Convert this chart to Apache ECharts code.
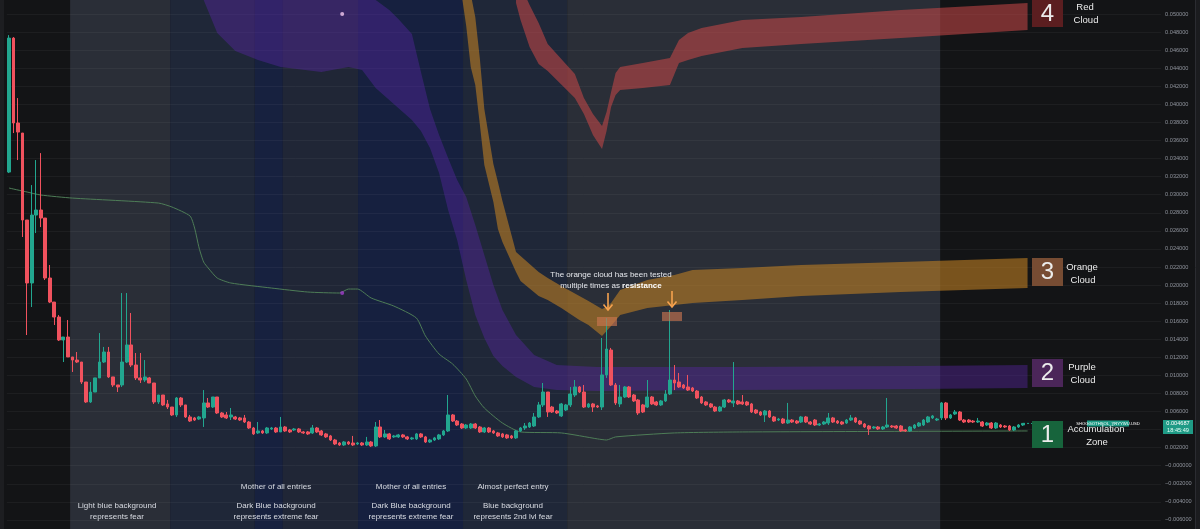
<!DOCTYPE html>
<html><head><meta charset="utf-8">
<script src="https://cdn.jsdelivr.net/npm/echarts@6/dist/echarts.min.js"></script>
<style>html,body{margin:0;padding:0;background:#131416;overflow:hidden;width:1200px;height:529px;}#c{position:absolute;left:0;top:-4px;width:1200px;height:542px;}</style>
</head><body><div id="c"></div><script>
// ---------- DATA ----------
const opens = [
0.03251,0.04734,0.03794,0.03683,0.02720,0.02023,0.02775,0.02831,0.02742,0.02078,
0.01812,0.01646,0.01392,0.01425,0.01204,0.01170,0.01148,0.00927,0.00706,0.00816,
0.00972,0.01148,0.01259,0.00983,0.00894,0.00894,0.01148,0.01337,0.01115,0.00972,
0.00949,0.00972,0.00916,0.00706,0.00783,0.00684,0.00650,0.00562,0.00750,0.00673,
0.00540,0.00529,0.00517,0.00529,0.00695,0.00650,0.00761,0.00584,0.00562,0.00540,
0.00540,0.00529,0.00529,0.00484,0.00418,0.00363,0.00385,0.00363,0.00407,0.00418,
0.00374,0.00429,0.00396,0.00396,0.00407,0.00374,0.00374,0.00363,0.00418,0.00385,
0.00352,0.00330,0.00285,0.00252,0.00230,0.00263,0.00252,0.00241,0.00252,0.00230,
0.00263,0.00219,0.00429,0.00319,0.00352,0.00319,0.00319,0.00341,0.00319,0.00297,
0.00297,0.00352,0.00319,0.00263,0.00285,0.00297,0.00341,0.00385,0.00562,0.00495,
0.00462,0.00418,0.00418,0.00462,0.00429,0.00374,0.00418,0.00385,0.00363,0.00352,
0.00341,0.00330,0.00308,0.00385,0.00418,0.00429,0.00440,0.00540,0.00673,0.00816,
0.00650,0.00606,0.00551,0.00617,0.00673,0.00783,0.00872,0.00816,0.00650,0.00684,
0.00662,0.00650,0.01005,0.01281,0.00894,0.00684,0.00761,0.00872,0.00783,0.00728,
0.00673,0.00650,0.00761,0.00706,0.00673,0.00717,0.00794,0.00949,0.00927,0.00894,
0.00872,0.00861,0.00827,0.00761,0.00706,0.00684,0.00650,0.00606,0.00650,0.00728,
0.00695,0.00717,0.00706,0.00706,0.00684,0.00617,0.00595,0.00562,0.00606,0.00540,
0.00506,0.00517,0.00473,0.00506,0.00495,0.00484,0.00540,0.00484,0.00506,0.00451,
0.00462,0.00473,0.00529,0.00495,0.00484,0.00473,0.00506,0.00529,0.00495,0.00462,
0.00440,0.00418,0.00429,0.00407,0.00429,0.00440,0.00440,0.00440,0.00396,0.00385,
0.00418,0.00440,0.00451,0.00484,0.00529,0.00506,0.00529,0.00695,0.00529,0.00573,
0.00595,0.00506,0.00506,0.00495,0.00484,0.00484,0.00451,0.00473,0.00418,0.00451,
0.00440,0.00440,0.00396,0.00429,0.00451];
const closes = [
0.04734,0.03794,0.03694,0.02720,0.02023,0.02775,0.02831,0.02742,0.02078,0.01812,
0.01646,0.01392,0.01425,0.01204,0.01170,0.01148,0.00927,0.00706,0.00816,0.00972,
0.01148,0.01259,0.00983,0.00894,0.00872,0.01148,0.01337,0.01115,0.00972,0.00949,
0.00983,0.00916,0.00706,0.00783,0.00673,0.00650,0.00562,0.00750,0.00673,0.00540,
0.00495,0.00506,0.00540,0.00695,0.00650,0.00761,0.00584,0.00540,0.00529,0.00562,
0.00517,0.00506,0.00484,0.00418,0.00352,0.00385,0.00363,0.00418,0.00418,0.00374,
0.00429,0.00385,0.00374,0.00407,0.00374,0.00363,0.00352,0.00418,0.00374,0.00341,
0.00319,0.00285,0.00241,0.00230,0.00263,0.00241,0.00230,0.00252,0.00230,0.00263,
0.00219,0.00429,0.00319,0.00352,0.00297,0.00330,0.00341,0.00319,0.00297,0.00308,
0.00352,0.00319,0.00263,0.00285,0.00308,0.00341,0.00385,0.00562,0.00495,0.00451,
0.00418,0.00451,0.00462,0.00418,0.00374,0.00418,0.00374,0.00363,0.00330,0.00319,
0.00308,0.00308,0.00385,0.00418,0.00440,0.00473,0.00540,0.00673,0.00816,0.00595,
0.00595,0.00584,0.00684,0.00673,0.00794,0.00872,0.00816,0.00650,0.00684,0.00650,
0.00650,0.01005,0.01292,0.00894,0.00695,0.00761,0.00872,0.00761,0.00717,0.00584,
0.00595,0.00761,0.00684,0.00673,0.00717,0.00794,0.00949,0.00916,0.00872,0.00861,
0.00838,0.00827,0.00750,0.00695,0.00673,0.00650,0.00606,0.00650,0.00728,0.00706,
0.00717,0.00684,0.00684,0.00673,0.00595,0.00584,0.00562,0.00606,0.00540,0.00495,
0.00517,0.00473,0.00506,0.00484,0.00473,0.00540,0.00484,0.00462,0.00451,0.00462,
0.00484,0.00529,0.00484,0.00473,0.00462,0.00506,0.00529,0.00484,0.00462,0.00429,
0.00407,0.00429,0.00407,0.00429,0.00451,0.00429,0.00418,0.00385,0.00385,0.00429,
0.00451,0.00473,0.00506,0.00540,0.00551,0.00517,0.00695,0.00529,0.00562,0.00595,
0.00506,0.00484,0.00484,0.00484,0.00495,0.00440,0.00473,0.00418,0.00473,0.00429,
0.00429,0.00396,0.00429,0.00451,0.004687];
const highs = [
0.04767,0.04745,0.04070,0.03683,0.02720,0.03107,0.03384,0.03461,0.02742,0.02222,
0.01812,0.01668,0.01425,0.01613,0.01204,0.01259,0.01148,0.00927,0.00927,0.00972,
0.01469,0.01315,0.01315,0.00983,0.00894,0.01912,0.01912,0.01691,0.01248,0.01248,
0.01170,0.00983,0.00916,0.00783,0.00783,0.00728,0.00650,0.00761,0.00761,0.00673,
0.00562,0.00540,0.00551,0.00838,0.00750,0.00761,0.00761,0.00595,0.00595,0.00639,
0.00551,0.00540,0.00562,0.00495,0.00429,0.00484,0.00396,0.00429,0.00429,0.00429,
0.00540,0.00440,0.00407,0.00418,0.00418,0.00385,0.00385,0.00451,0.00429,0.00396,
0.00363,0.00341,0.00297,0.00263,0.00274,0.00274,0.00330,0.00263,0.00263,0.00319,
0.00274,0.00484,0.00506,0.00396,0.00363,0.00341,0.00352,0.00352,0.00330,0.00319,
0.00363,0.00363,0.00330,0.00297,0.00319,0.00352,0.00396,0.00783,0.00573,0.00506,
0.00473,0.00462,0.00473,0.00473,0.00440,0.00429,0.00429,0.00396,0.00374,0.00363,
0.00352,0.00341,0.00396,0.00429,0.00473,0.00484,0.00584,0.00706,0.00916,0.00816,
0.00662,0.00617,0.00695,0.00684,0.00872,0.00949,0.00883,0.00894,0.00695,0.00695,
0.00673,0.01414,0.01635,0.01304,0.00916,0.00894,0.00883,0.00883,0.00794,0.00739,
0.00684,0.00949,0.00772,0.00717,0.00728,0.00838,0.01724,0.01115,0.01027,0.00905,
0.01005,0.00872,0.00838,0.00772,0.00717,0.00695,0.00662,0.00662,0.00739,0.00739,
0.01148,0.00728,0.00783,0.00717,0.00695,0.00628,0.00606,0.00617,0.00617,0.00551,
0.00529,0.00529,0.00695,0.00517,0.00506,0.00551,0.00551,0.00495,0.00517,0.00473,
0.00495,0.00584,0.00540,0.00506,0.00495,0.00517,0.00562,0.00540,0.00506,0.00473,
0.00451,0.00440,0.00440,0.00440,0.00750,0.00451,0.00451,0.00451,0.00407,0.00440,
0.00462,0.00484,0.00517,0.00551,0.00562,0.00529,0.00706,0.00706,0.00573,0.00617,
0.00606,0.00517,0.00517,0.00506,0.00529,0.00495,0.00484,0.00484,0.00484,0.00462,
0.00451,0.00451,0.00440,0.00462,0.00473];
const lows = [
0.03240,0.03683,0.03384,0.02532,0.01447,0.01757,0.02576,0.02642,0.02056,0.01801,
0.01558,0.01381,0.01148,0.01204,0.01038,0.01137,0.00905,0.00695,0.00695,0.00816,
0.00972,0.01137,0.00972,0.00872,0.00816,0.00872,0.01137,0.01093,0.00949,0.00916,
0.00927,0.00916,0.00684,0.00684,0.00662,0.00628,0.00551,0.00540,0.00650,0.00529,
0.00484,0.00495,0.00506,0.00429,0.00639,0.00639,0.00573,0.00529,0.00517,0.00506,
0.00506,0.00495,0.00473,0.00407,0.00341,0.00352,0.00352,0.00352,0.00396,0.00363,
0.00374,0.00374,0.00363,0.00385,0.00363,0.00352,0.00341,0.00352,0.00363,0.00330,
0.00308,0.00274,0.00230,0.00219,0.00219,0.00230,0.00219,0.00230,0.00219,0.00219,
0.00208,0.00208,0.00308,0.00308,0.00285,0.00308,0.00308,0.00308,0.00285,0.00285,
0.00285,0.00308,0.00252,0.00252,0.00274,0.00285,0.00330,0.00374,0.00484,0.00440,
0.00407,0.00407,0.00407,0.00407,0.00363,0.00363,0.00363,0.00352,0.00319,0.00308,
0.00297,0.00297,0.00297,0.00374,0.00396,0.00418,0.00429,0.00529,0.00650,0.00540,
0.00584,0.00573,0.00540,0.00606,0.00650,0.00761,0.00805,0.00639,0.00639,0.00595,
0.00639,0.00617,0.00972,0.00883,0.00673,0.00650,0.00750,0.00750,0.00706,0.00562,
0.00584,0.00639,0.00673,0.00662,0.00662,0.00706,0.00783,0.00838,0.00861,0.00850,
0.00827,0.00816,0.00739,0.00684,0.00662,0.00639,0.00595,0.00595,0.00639,0.00695,
0.00650,0.00673,0.00673,0.00662,0.00584,0.00573,0.00551,0.00484,0.00529,0.00484,
0.00495,0.00462,0.00462,0.00473,0.00462,0.00473,0.00473,0.00451,0.00440,0.00440,
0.00451,0.00451,0.00473,0.00462,0.00451,0.00462,0.00495,0.00473,0.00451,0.00418,
0.00341,0.00407,0.00396,0.00396,0.00418,0.00418,0.00407,0.00374,0.00374,0.00374,
0.00407,0.00429,0.00440,0.00473,0.00517,0.00495,0.00506,0.00506,0.00517,0.00562,
0.00495,0.00473,0.00473,0.00473,0.00473,0.00429,0.00440,0.00407,0.00407,0.00418,
0.00418,0.00385,0.00385,0.00418,0.00440];

const purpleIdx = [43,46,50,55,60,69,75,78,81,84,86,89,91,93,95,97,99,101,103,105,107,109,112,116,121,130,160,200,225];
const purpleTop = [0.05598,0.05598,0.05598,0.05598,0.05598,0.05598,0.05598,0.05598,0.05155,0.05044,0.04945,0.04779,0.04358,0.03949,0.03661,0.03406,0.03163,0.02975,0.02665,0.02333,0.02001,0.01724,0.01447,0.01226,0.01115,0.01093,0.01093,0.01104,0.01115];
const purpleBottom = [0.05155,0.04790,0.04590,0.04491,0.04413,0.04358,0.04413,0.04380,0.04181,0.04048,0.03960,0.03827,0.03705,0.03517,0.03240,0.02831,0.02499,0.02056,0.01668,0.01414,0.01215,0.01104,0.00983,0.00872,0.00838,0.00827,0.00838,0.00850,0.00861];

const orangeIdx = [100,101,102,103,104,105,107,108,109,111,112,113,117,119,122,126,128,131,132,133,135,141,147,151,162,175,197,225];
const orangeTop = [0.05819,0.05598,0.05221,0.04967,0.04513,0.03949,0.03340,0.03141,0.02930,0.02554,0.02366,0.02322,0.02144,0.02078,0.01990,0.01879,0.01823,0.01735,0.01757,0.01801,0.01945,0.02056,0.02111,0.02167,0.02189,0.02222,0.02255,0.02300];
const orangeBottom = [0.05210,0.04867,0.04413,0.04214,0.03783,0.03329,0.02919,0.02620,0.02476,0.02255,0.02144,0.02045,0.01879,0.01834,0.01746,0.01613,0.01558,0.01436,0.01491,0.01547,0.01668,0.01746,0.01779,0.01801,0.01834,0.01879,0.01923,0.01967];

const redIdx = [112,113,115,117,119,121,123,125,127,129,131,132,133,134,135,140,146,148,150,153,162,175,197,225];
const redTop = [0.05487,0.05321,0.05100,0.04900,0.04668,0.04557,0.04447,0.04336,0.04070,0.03893,0.03760,0.03915,0.04137,0.04347,0.04413,0.04458,0.04513,0.04712,0.04790,0.04845,0.04934,0.04967,0.05044,0.05122];
const redBottom = [0.05122,0.04934,0.04635,0.04447,0.04369,0.04270,0.04170,0.04070,0.03893,0.03661,0.03506,0.03705,0.03971,0.04103,0.04159,0.04181,0.04214,0.04458,0.04491,0.04535,0.04624,0.04668,0.04734,0.04823];

const greenIdx = [0,4,7,14,33,36,40,41,42,43,44,46,49,58,66,73,75,77,80,85,90,92,95,98,101,103,105,109,113,122,130,132,134,147,162,225];
const greenVal = [0.03074,0.03030,0.02997,0.02963,0.02908,0.02864,0.02764,0.02631,0.02410,0.02255,0.02189,0.02078,0.02023,0.01967,0.01923,0.01912,0.01956,0.01956,0.01857,0.01768,0.01635,0.01436,0.01237,0.01126,0.00960,0.00772,0.00639,0.00473,0.00374,0.00363,0.00297,0.00285,0.00319,0.00363,0.00374,0.00385];

const bandStart = [13.5, 35.6, 54.3, 60.5, 77.1, 100.3, 123.3];
const bandEnd   = [35.6, 54.3, 60.5, 77.1, 100.3, 123.3, 205.7];

const lastPrice = 0.004687;
const lastTime = '18:45:49';
const symbolName = 'SHOGGOTHSOL_YRYYWU.USD';
const priceLineEnd = 226;
const markerIdx = 73.6;
const markerVals = [0.01912, 0.05000];

const yMin = -0.008, yMax = 0.052, yStep = 0.002;
const slotCount = 255;
const categories = Array.from({length: slotCount}, (_, i) => String(i));

// ---------- STYLE ----------
const bandFill = ['#2a2e37','#1f2738','#17213f','#202636','#16203f','#1f2738','#2a2e37'];
const UP = '#22a68f', DOWN = '#f0525e';
const FONT = 'Liberation Sans, Arial, sans-serif';
const OFFSET_Y = 4; // the chart canvas starts 4px above the window

const chart = echarts.init(document.getElementById('c'), null, {renderer: 'canvas'});

function cloud(idx, top, bottom, fill) {
  return {
    type: 'custom', xAxisIndex: 1, yAxisIndex: 0, z: 2, silent: true,
    data: idx.map((x, i) => [x, top[i], bottom[i]]),
    renderItem: function (params, api) {
      if (params.dataIndex !== 0) return null;
      const pts = [];
      for (let i = 0; i < idx.length; i++) pts.push(api.coord([idx[i], top[i]]));
      for (let i = idx.length - 1; i >= 0; i--) pts.push(api.coord([idx[i], bottom[i]]));
      return { type: 'polygon', shape: { points: pts }, style: { fill: fill } };
    }
  };
}

function txt(x, y, text, size, color) {
  return { type: 'text', x: x, y: y, z: 100,
    style: { text: text, fill: color || '#d9dce3', fontSize: size, fontFamily: FONT, align: 'center', verticalAlign: 'middle' } };
}
function box(x, y, w, h, fill) {
  return { type: 'rect', z: 99, shape: { x: x, y: y, width: w, height: h }, style: { fill: fill } };
}

const overlay = [
  box(0, -4, 4, 545, '#1d1e21'),
  box(1196, -4, 4, 545, '#1b1c1f'),
  { type: 'line', z: 99, shape: { x1: 1195.5, y1: -4, x2: 1195.5, y2: 540 }, style: { stroke: '#2b2c31', lineWidth: 1 } },
  // annotation in the middle
  txt(611, 275, 'The orange cloud has been tested', 8, '#e4e6eb'),
  { type: 'text', x: 611, y: 286, z: 100, style: { text: '{a|multiple times as }{b|resistance}', align: 'center', verticalAlign: 'middle',
    rich: { a: { fontSize: 8, fill: '#e4e6eb', fontFamily: FONT }, b: { fontSize: 8, fill: '#ffffff', fontWeight: 'bold', fontFamily: FONT } } } },
  { type: 'rect', z: 98, shape: { x: 597, y: 317, width: 20, height: 9 }, style: { fill: 'rgba(205,120,80,0.62)' } },
  { type: 'rect', z: 98, shape: { x: 662, y: 312, width: 20, height: 9 }, style: { fill: 'rgba(205,120,80,0.62)' } },
  { type: 'line', z: 100, shape: { x1: 608, y1: 293, x2: 608, y2: 310 }, style: { stroke: '#f6a24f', lineWidth: 1.6 } },
  { type: 'polyline', z: 100, shape: { points: [[603.5, 304.5], [608, 310], [612.5, 304.5]] }, style: { stroke: '#f6a24f', lineWidth: 1.6, fill: null } },
  { type: 'line', z: 100, shape: { x1: 672, y1: 291, x2: 672, y2: 307 }, style: { stroke: '#f6a24f', lineWidth: 1.6 } },
  { type: 'polyline', z: 100, shape: { points: [[667.5, 301.5], [672, 307], [676.5, 301.5]] }, style: { stroke: '#f6a24f', lineWidth: 1.6, fill: null } },
  // bottom notes
  txt(117, 506, 'Light blue background', 8),
  txt(117, 517, 'represents fear', 8),
  txt(276, 487, 'Mother of all entries', 8),
  txt(276, 506, 'Dark Blue background', 8),
  txt(276, 517, 'represents extreme fear', 8),
  txt(411, 487, 'Mother of all entries', 8),
  txt(411, 506, 'Dark Blue background', 8),
  txt(411, 517, 'represents extreme fear', 8),
  txt(513, 487, 'Almost perfect entry', 8),
  txt(513, 506, 'Blue background', 8),
  txt(513, 517, 'represents 2nd lvl fear', 8),
  // right-side legend boxes
  box(1032, -4, 31, 31, '#5b1e20'),
  txt(1047.5, 14, '4', 24, '#ececec'),
  txt(1085, 7, 'Red', 9.5, '#ececec'),
  txt(1086, 20, 'Cloud', 9.5, '#ececec'),
  box(1032, 258, 31, 28, '#774c33'),
  txt(1047.5, 272.5, '3', 24, '#ececec'),
  txt(1082, 267, 'Orange', 9.5, '#ececec'),
  txt(1083, 280, 'Cloud', 9.5, '#ececec'),
  box(1032, 359, 31, 28, '#4b2659'),
  txt(1047.5, 373.5, '2', 24, '#ececec'),
  txt(1082, 367, 'Purple', 9.5, '#ececec'),
  txt(1083, 380, 'Cloud', 9.5, '#ececec'),
  box(1032, 421, 31, 27, '#17643c'),
  txt(1047.5, 435, '1', 24, '#ececec'),
  txt(1096, 429, 'Accumulation', 9.5, '#ececec'),
  txt(1097, 442, 'Zone', 9.5, '#ececec'),
  // price labels
  box(1087, 420.5, 42, 6, '#1f9b86'),
  txt(1108, 423.5, symbolName, 4.2, '#ffffff'),
  box(1163, 420, 30, 14, '#1f9b86'),
  txt(1178, 423.8, lastPrice.toFixed(6), 5.6, '#ffffff'),
  txt(1178, 430.3, lastTime, 5.6, '#e6fff8')
];

const option = {
  backgroundColor: '#131416',
  animation: false,
  grid: { left: 6.74, right: 38.9, top: 0, bottom: 0 },
  xAxis: [
    { type: 'category', data: categories, boundaryGap: true, show: false },
    { type: 'value', min: -0.5, max: slotCount - 0.5, show: false }
  ],
  yAxis: {
    type: 'value', position: 'right', min: yMin, max: yMax, interval: yStep, z: 1.5,
    axisLine: { show: false }, axisTick: { show: false },
    splitLine: { show: true, lineStyle: { color: 'rgba(255,255,255,0.045)', width: 1 } },
    axisLabel: {
      color: '#8f939c', fontSize: 5.6, margin: 4, fontFamily: FONT, showMinLabel: false, showMaxLabel: false,
      formatter: function (v) {
        if (Math.abs(v) < 1e-10) return '\u22120.000000';
        return (v < 0 ? '\u2212' : '') + Math.abs(v).toFixed(6);
      }
    }
  },
  series: [
    {
      type: 'custom', xAxisIndex: 1, yAxisIndex: 0, z: 1, silent: true,
      data: bandStart.map((s, i) => [s, bandEnd[i], i]),
      renderItem: function (params, api) {
        const a = api.coord([api.value(0), 0]);
        const b = api.coord([api.value(1), 0]);
        const cs = params.coordSys;
        return { type: 'rect', shape: { x: a[0], y: cs.y, width: b[0] - a[0], height: cs.height },
          style: { fill: bandFill[api.value(2)] } };
      }
    },
    cloud(purpleIdx, purpleTop, purpleBottom, 'rgba(88,38,165,0.42)'),
    cloud(orangeIdx, orangeTop, orangeBottom, 'rgba(195,130,35,0.58)'),
    cloud(redIdx, redTop, redBottom, 'rgba(200,72,72,0.56)'),
    {
      type: 'line', xAxisIndex: 1, yAxisIndex: 0, z: 3, silent: true, symbol: 'none', smooth: 0.2,
      data: greenIdx.map((x, i) => [x, greenVal[i]]),
      lineStyle: { color: '#4e7d57', width: 1 }
    },
    {
      type: 'line', xAxisIndex: 1, yAxisIndex: 0, z: 3, silent: true, symbol: 'none',
      data: [[opens.length - 1, lastPrice], [priceLineEnd, lastPrice]],
      lineStyle: { color: '#22a68f', width: 1, type: [2, 2] }
    },
    {
      type: 'scatter', xAxisIndex: 1, yAxisIndex: 0, z: 5, silent: true, symbolSize: 4,
      data: [
        { value: [markerIdx, markerVals[0]], itemStyle: { color: '#a03ccc' } },
        { value: [markerIdx, markerVals[1]], itemStyle: { color: '#f2c9ef' } }
      ]
    },
    {
      type: 'candlestick', xAxisIndex: 0, yAxisIndex: 0, z: 4, barWidth: '72%', silent: true,
      data: opens.map((o, i) => [o, closes[i], lows[i], highs[i]]),
      itemStyle: { color: UP, color0: DOWN, borderColor: UP, borderColor0: DOWN, borderWidth: 1 }
    }
  ],
  graphic: [{ type: 'group', x: 0, y: OFFSET_Y, children: overlay }]
};
chart.setOption(option);
</script></body></html>
